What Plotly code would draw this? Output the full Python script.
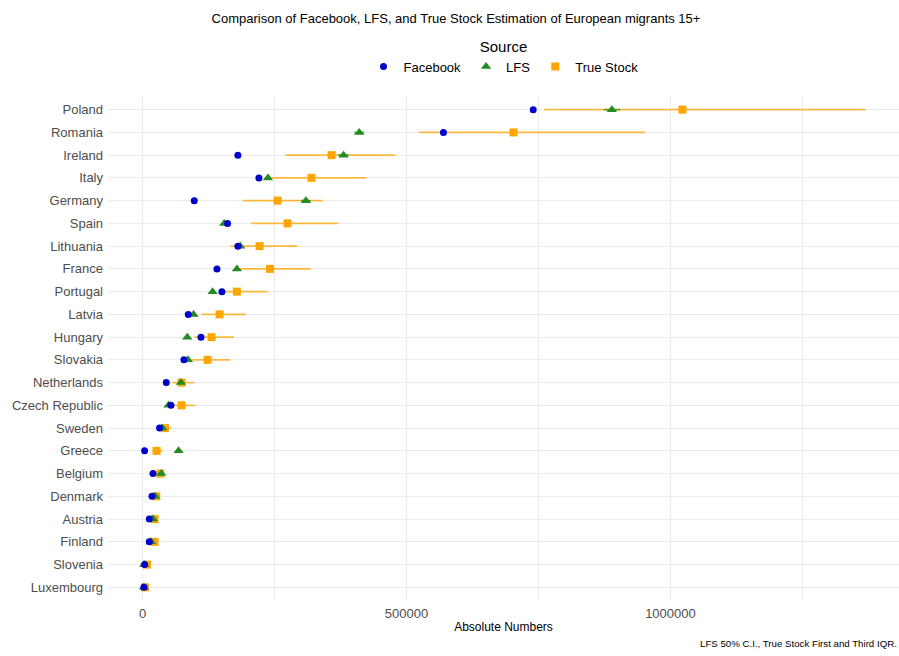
import numpy as np
import plotly.graph_objects as go

countries = ["Poland", "Romania", "Ireland", "Italy", "Germany", "Spain", "Lithuania",
             "France", "Portugal", "Latvia", "Hungary", "Slovakia", "Netherlands",
             "Czech Republic", "Sweden", "Greece", "Belgium", "Denmark", "Austria",
             "Finland", "Slovenia", "Luxembourg"]

facebook = [740000, 570000, 180600, 220400, 97900, 161000, 180600, 140900, 150300, 86600,
            110600, 78400, 44900, 53800, 32200, 3800, 19700, 17800, 12700, 12700, 3800, 2600]

lfs = [889000, 410400, 380700, 237500, 309400, 154700, 185000, 178700, 132600, 96600,
       84700, 86000, 72700, 49200, 37300, 68200, 35400, 24000, 19700, 15900, 3000, 2600]
lfs_low = [874000, 401000, 370000, 232000, 300000, 151000, 181000, 175000, 129500, 94000,
           82500, 83500, 70500, 47500, 36000, 66000, 34000, 23000, 18800, 15000, 2700, 2300]
lfs_high = [905000, 420000, 391000, 243000, 319000, 158500, 189000, 182500, 135800, 99200,
            87000, 88500, 75000, 51000, 38600, 70500, 37000, 25000, 20600, 16800, 3300, 2900]

true_stock = [1022700, 702700, 358000, 320000, 255700, 274600, 221600, 241300, 178700, 145800,
              130700, 123100, 73900, 73900, 42400, 26500, 33500, 25900, 22700, 22700, 8300, 4500]
ts_q1 = [760800, 524000, 270300, 242000, 190100, 205900, 166100, 178700, 145000, 111200,
         98500, 94100, 55700, 58700, 27300, 18900, 26000, 20000, 17000, 17500, 4000, 1500]
ts_q3 = [1370000, 952000, 478600, 423700, 341600, 370600, 293000, 318900, 237500, 195800,
         173100, 166100, 97900, 99800, 53800, 37900, 40000, 31000, 29000, 27000, 12000, 7500]

FONT = "Liberation Sans, Arial, sans-serif"
BLUE = "#0000CD"
GREEN = "#228B22"
ORANGE = "#FFA500"

ts = np.array(true_stock)
lf = np.array(lfs)

fig = go.Figure()

fig.add_trace(go.Scatter(
    x=true_stock, y=countries, mode="markers", name="True Stock", legendrank=3,
    marker=dict(symbol="square", size=8, color=ORANGE),
    error_x=dict(type="data", symmetric=False,
                 array=(np.array(ts_q3) - ts).tolist(),
                 arrayminus=(ts - np.array(ts_q1)).tolist(),
                 color="rgba(255,165,0,0.75)", thickness=1.6, width=0),
))
fig.add_trace(go.Scatter(
    x=lfs, y=countries, mode="markers", name="LFS", legendrank=2,
    marker=dict(symbol="triangle-up", size=9, color=GREEN),
    error_x=dict(type="data", symmetric=False,
                 array=(np.array(lfs_high) - lf).tolist(),
                 arrayminus=(lf - np.array(lfs_low)).tolist(),
                 color="rgba(34,139,34,0.75)", thickness=1.6, width=0),
))
fig.add_trace(go.Scatter(
    x=facebook, y=countries, mode="markers", name="Facebook", legendrank=1,
    marker=dict(symbol="circle", size=7, color=BLUE),
))

fig.update_layout(
    width=899, height=656,
    paper_bgcolor="white", plot_bgcolor="white",
    margin=dict(l=108, r=0, t=96, b=55),
    font=dict(family=FONT, color="black"),
    title=dict(text="Comparison of Facebook, LFS, and True Stock Estimation of European migrants 15+",
               x=456 / 899, xanchor="center", xref="container",
               y=1 - 18 / 656, yanchor="middle", yref="container",
               font=dict(size=13, family=FONT, color="black")),
    showlegend=True,
    legend=dict(orientation="h", x=0.5, xanchor="center", xref="paper",
                y=1 - 32 / 656, yanchor="top", yref="container",
                title=dict(text="Source", side="top center",
                           font=dict(size=15, family=FONT, color="black")),
                font=dict(size=13, family=FONT, color="black"),
                itemwidth=30, tracegroupgap=0),
    xaxis=dict(range=[-65500, 1433000], tickvals=[0, 500000, 1000000],
               ticktext=["0", "500000", "1000000"],
               showgrid=True, gridcolor="#EBEBEB", gridwidth=1, zeroline=False,
               showline=False, ticks="", ticklabelstandoff=3,
               minor=dict(dtick=250000, tick0=0, showgrid=True, gridcolor="#EBEBEB", gridwidth=0.8),
               tickfont=dict(size=13, family=FONT, color="#4D4D4D"),
               title=dict(text="Absolute Numbers", standoff=2,
                          font=dict(size=12, family=FONT, color="black"))),
    yaxis=dict(type="category", categoryorder="array", categoryarray=countries,
               range=[len(countries) - 0.4, -0.6],
               showgrid=True, gridcolor="#EBEBEB", gridwidth=1.2, zeroline=False,
               showline=False, ticks="", ticklabelstandoff=4,
               tickfont=dict(size=13, family=FONT, color="#4D4D4D")),
)

fig.add_annotation(text="LFS 50% C.I., True Stock First and Third IQR.",
                   xref="paper", yref="paper", x=1, y=0, xanchor="right", yanchor="middle",
                   yshift=-(643 - 601), showarrow=False,
                   font=dict(size=9.7, family=FONT, color="black"))

fig.write_html("out.html")
